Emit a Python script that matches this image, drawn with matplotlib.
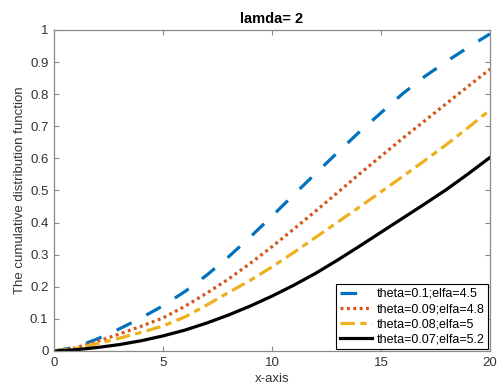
import numpy as np
import matplotlib
matplotlib.use('agg')
import matplotlib.pyplot as plt

# Values
x_vals = list(range(0, 21))
cdf_blue = [0, 0.012, 0.038, 0.069, 0.103, 0.141, 0.185, 0.236, 0.293, 0.355, 0.420,
            0.487, 0.553, 0.618, 0.682, 0.742, 0.802, 0.855, 0.902, 0.946, 0.988]
cdf_orange = [0, 0.010, 0.030, 0.053, 0.077, 0.103, 0.139, 0.180, 0.224, 0.273, 0.325,
              0.380, 0.436, 0.493, 0.551, 0.607, 0.663, 0.717, 0.771, 0.825, 0.878]
cdf_yellow = [0, 0.008, 0.023, 0.040, 0.058, 0.078, 0.106, 0.143, 0.182, 0.220, 0.262,
              0.307, 0.354, 0.401, 0.448, 0.496, 0.544, 0.593, 0.643, 0.696, 0.751]
cdf_black = [0, 0.004, 0.011, 0.020, 0.032, 0.047, 0.065, 0.087, 0.112, 0.140, 0.171,
             0.205, 0.242, 0.283, 0.326, 0.370, 0.414, 0.458, 0.503, 0.552, 0.603]
series_labels = ['theta=0.1;elfa=4.5', 'theta=0.09;elfa=4.8',
                 'theta=0.08;elfa=5', 'theta=0.07;elfa=5.2']
x_ticks = [0, 5, 10, 15, 20]
y_ticks = [0, 0.1, 0.2, 0.3, 0.4, 0.5, 0.6, 0.7, 0.8, 0.9, 1]
y_tick_labels = ['0', '0.1', '0.2', '0.3', '0.4', '0.5', '0.6', '0.7', '0.8', '0.9', '1']

plt.rcParams['font.family'] = ['Liberation Sans', 'DejaVu Sans']

fig = plt.figure(figsize=(4.97, 3.92), dpi=100)
ax = fig.add_axes([0.1087, 0.1046, 0.8773, 0.8189])

lw = 2.3
ax.plot(x_vals, cdf_blue, color='#0072BD', lw=lw, dashes=(5.2, 5.2),
        label=series_labels[0])
ax.plot(x_vals, cdf_orange, color='#D95319', lw=lw, dashes=(0.9, 1.1),
        label=series_labels[1])
ax.plot(x_vals, cdf_yellow, color='#EDB120', lw=lw, dashes=(4.5, 1.7, 2, 1.7),
        label=series_labels[2])
ax.plot(x_vals, cdf_black, color='black', lw=lw, label=series_labels[3])

ax.set_xlim(0, 20)
ax.set_ylim(0, 1)
ax.set_xticks(x_ticks)
ax.set_xticklabels([str(t) for t in x_ticks])
ax.set_yticks(y_ticks)
ax.set_yticklabels(y_tick_labels)

# MATLAB-like box with inward ticks on all sides
for sp in ax.spines.values():
    sp.set_color('#8a8a8a')
    sp.set_linewidth(0.9)
ax.tick_params(direction='in', length=3.5, width=0.8, color='#8a8a8a',
               labelsize=9.5, labelcolor='#333333', top=True, right=True, pad=4)

ax.set_title('lamda= 2', fontsize=10.5, fontweight='bold', pad=5)
ax.set_xlabel('x-axis', fontsize=9.5, color='#333333', labelpad=3)
ax.set_ylabel('The cumulative distribution function', fontsize=9.5,
              color='#333333', labelpad=3)

leg = ax.legend(loc='lower right', fontsize=9, handlelength=2.6,
                handletextpad=0.35, labelspacing=0.25, borderpad=0.3,
                borderaxespad=0.15, fancybox=False, framealpha=1)
leg.get_frame().set_edgecolor('black')
leg.get_frame().set_linewidth(0.8)

plt.savefig('out.png', dpi=100)
plt.close('all')
